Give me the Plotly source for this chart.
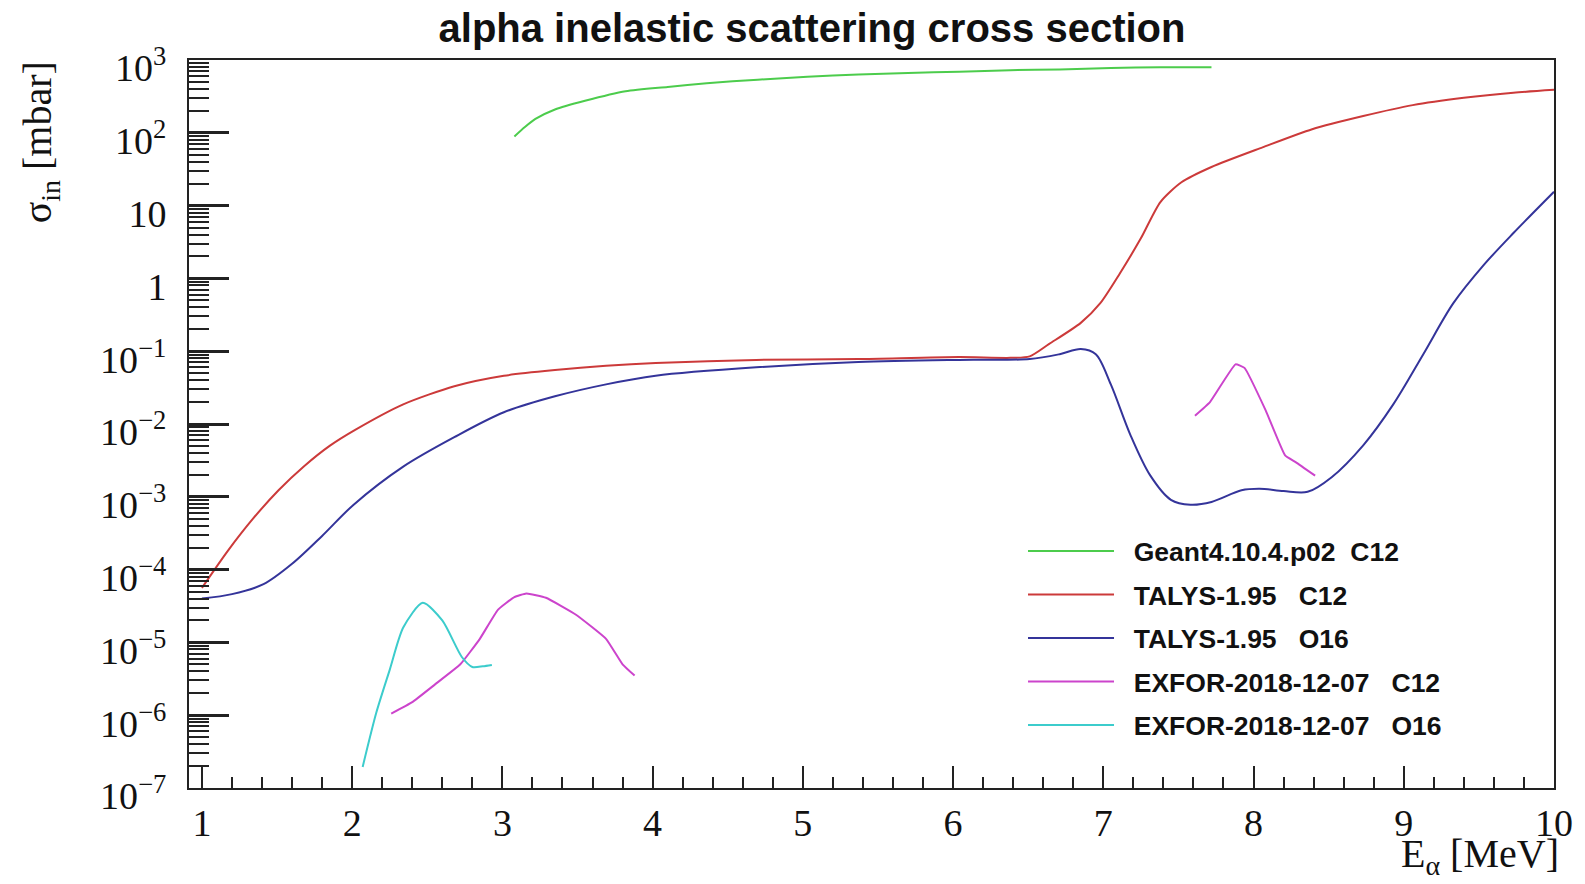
import plotly.graph_objects as go

# ---------------- data ----------------
geant_x = [3.08, 3.15, 3.22, 3.35, 3.55, 3.82, 4.10, 4.36, 4.70, 5.03, 5.37, 5.70, 6.04, 6.38, 6.71, 7.05, 7.38, 7.72]
geant_y = [89, 120, 155, 209, 275, 372, 427, 479, 537, 589, 631, 661, 692, 724, 741, 776, 794, 794]

talys_c12_x = [1.0, 1.17, 1.34, 1.51, 1.68, 1.85, 2.02, 2.34, 2.68, 3.01, 3.35, 3.69, 4.02, 4.69, 5.37, 6.04,
               6.38, 6.51, 6.64, 6.85, 6.98, 7.11, 7.25, 7.38, 7.52, 7.72, 8.06, 8.39, 8.73, 9.06, 9.40,
               9.73, 10.0]
talys_c12_y = [5.6e-5, 1.78e-4, 5.0e-4, 1.23e-3, 2.63e-3, 5.0e-3, 8.3e-3, 1.86e-2, 3.3e-2, 4.6e-2, 5.5e-2,
               6.3e-2, 6.9e-2, 7.6e-2, 7.8e-2, 8.3e-2, 8.1e-2, 8.5e-2, 0.126, 0.245, 0.457, 1.17, 3.55,
               11.2, 20.9, 33.9, 63.1, 112, 170, 240, 302, 355, 389]

talys_o16_x = [1.0, 1.2, 1.41, 1.60, 1.80, 2.01, 2.34, 2.68, 3.01, 3.35, 3.69, 4.02, 4.69, 5.37, 6.04,
               6.51, 6.71, 6.85, 6.95, 7.05, 7.18, 7.31, 7.45, 7.58, 7.72, 7.92, 8.04, 8.20, 8.36, 8.52,
               8.73, 8.93, 9.13, 9.33, 9.53, 9.73, 10.0]
talys_o16_y = [4.0e-5, 4.6e-5, 6.3e-5, 1.2e-4, 2.9e-4, 7.8e-4, 2.6e-3, 6.6e-3, 1.45e-2, 2.4e-2, 3.5e-2,
               4.6e-2, 6.0e-2, 7.1e-2, 7.6e-2, 7.8e-2, 9.1e-2, 0.107, 9.1e-2, 3.5e-2, 7.1e-3, 2.0e-3,
               9.1e-4, 7.8e-4, 8.5e-4, 1.23e-3, 1.29e-3, 1.20e-3, 1.17e-3, 1.86e-3, 5.1e-3, 1.86e-2,
               9.1e-2, 0.457, 1.51, 4.2, 15.5]

exfor_c12_x = [2.26, 2.40, 2.55, 2.72, 2.85, 2.97, 3.08, 3.16, 3.29, 3.49, 3.69, 3.80, 3.88,
               None,
               7.61, 7.71, 7.88, 7.94, 8.08, 8.21, 8.28, 8.41]
exfor_c12_y = [1.05e-6, 1.51e-6, 2.63e-6, 5.0e-6, 1.12e-5, 2.8e-5, 4.2e-5, 4.7e-5, 4.1e-5, 2.4e-5, 1.12e-5, 5.0e-6, 3.5e-6,
               None,
               1.3e-2, 2.0e-2, 6.6e-2, 5.9e-2, 1.55e-2, 3.7e-3, 3.0e-3, 1.95e-3]

exfor_o16_x = [2.07, 2.16, 2.25, 2.34, 2.47, 2.60, 2.73, 2.80, 2.87, 2.93]
exfor_o16_y = [1.95e-7, 1.07e-6, 4.2e-6, 1.6e-5, 3.5e-5, 2.0e-5, 6.3e-6, 4.6e-6, 4.7e-6, 4.9e-6]

y_tick_vals = [1e-7, 1e-6, 1e-5, 1e-4, 1e-3, 1e-2, 1e-1, 1, 10, 100, 1000]
y_tick_text = ["10<sup>\u22127</sup>", "10<sup>\u22126</sup>", "10<sup>\u22125</sup>", "10<sup>\u22124</sup>",
               "10<sup>\u22123</sup>", "10<sup>\u22122</sup>", "10<sup>\u22121</sup>", "1", "10",
               "10<sup>2</sup>", "10<sup>3</sup>"]

NB = "\u00a0"
labels = [NB * 2 + "Geant4.10.4.p02" + NB * 2 + "C12",
          NB * 2 + "TALYS-1.95" + NB * 3 + "C12",
          NB * 2 + "TALYS-1.95" + NB * 3 + "O16",
          NB * 2 + "EXFOR-2018-12-07" + NB * 3 + "C12",
          NB * 2 + "EXFOR-2018-12-07" + NB * 3 + "O16"]
colors = ["#4ccc4c", "#cc3a3a", "#34349a", "#cc44cc", "#3ccccc"]

# ---------------- figure ----------------
fig = go.Figure()
series = [(geant_x, geant_y, 0.7), (talys_c12_x, talys_c12_y, 0.7),
          (talys_o16_x, talys_o16_y, 0.9), (exfor_c12_x, exfor_c12_y, 0.35),
          (exfor_o16_x, exfor_o16_y, 0.7)]
for i, (xs, ys, sm) in enumerate(series):
    fig.add_trace(go.Scatter(
        x=xs, y=ys, mode="lines", name="<b>" + labels[i] + "</b>",
        legendgroup=str(i),
        line=dict(color=colors[i], width=2, shape="spline", smoothing=sm),
    ))

axis_color = "#222222"
fig.update_layout(
    width=1585, height=884,
    margin=dict(l=189, r=28, t=60, b=96),
    paper_bgcolor="white", plot_bgcolor="white",
    title=dict(text="<b>alpha inelastic scattering cross section</b>",
               font=dict(family="Liberation Sans", size=40, color="#111"),
               x=812 / 1585, xref="container", xanchor="center",
               y=1 - 28 / 884, yref="container", yanchor="middle"),
    legend=dict(x=0.611, y=0.358, xanchor="left", yanchor="top",
                bgcolor="rgba(0,0,0,0)", borderwidth=0,
                font=dict(family="Liberation Sans", size=26.5, color="#111"),
                traceorder="grouped", tracegroupgap=6, itemwidth=86),
    xaxis=dict(range=[0.914, 10], showgrid=False, zeroline=False,
               showline=True, mirror=True, linecolor=axis_color, linewidth=2,
               ticks="inside", ticklen=22, tickwidth=2, tickcolor=axis_color,
               tickmode="linear", tick0=1, dtick=1,
               minor=dict(ticks="inside", ticklen=11, tickwidth=1.5, tickcolor=axis_color,
                          tick0=1, dtick=0.2, showgrid=False),
               tickfont=dict(family="Liberation Serif", size=38, color="#111"),
               ticklabelstandoff=0),
    yaxis=dict(type="log", range=[-7, 3], showgrid=False, zeroline=False,
               showline=True, mirror=True, linecolor=axis_color, linewidth=2,
               ticks="inside", ticklen=40, tickwidth=2.5, tickcolor=axis_color,
               tickmode="array", tickvals=y_tick_vals, ticktext=y_tick_text,
               minor=dict(ticks="inside", ticklen=20, tickwidth=1.5, tickcolor=axis_color,
                          dtick="D1", showgrid=False),
               tickfont=dict(family="Liberation Serif", size=38, color="#111"),
               ticklabelstandoff=13, ticklabelshift=8),
    annotations=[
        dict(text="\u03c3<sub>in</sub> [mbar]", textangle=-90, showarrow=False,
             xref="paper", x=(40 - 189) / 1368, xanchor="center",
             yref="paper", y=(788 - 142) / 728, yanchor="middle",
             font=dict(family="Liberation Serif", size=40, color="#111")),
        dict(text="E<sub>\u03b1</sub> [MeV]", showarrow=False,
             xref="paper", x=1, xanchor="right", xshift=7,
             yref="paper", y=(788 - 856) / 728, yanchor="middle",
             font=dict(family="Liberation Serif", size=40, color="#111")),
    ],
)

fig.write_html("out.html")
